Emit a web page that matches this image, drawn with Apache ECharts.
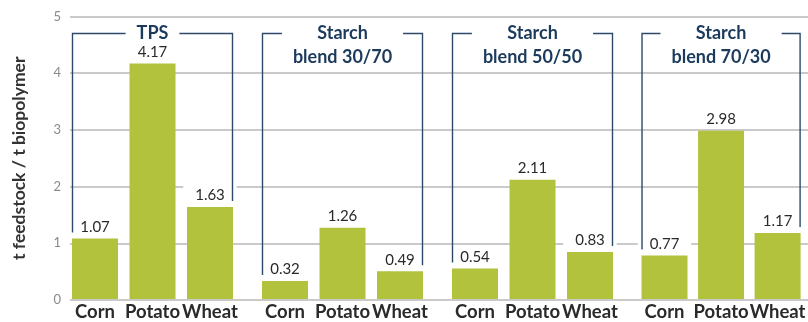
<!DOCTYPE html>
<html>
<head>
<meta charset="utf-8">
<script src="https://cdn.jsdelivr.net/npm/echarts@6/dist/echarts.min.js"></script>
<style>
  html, body { margin: 0; padding: 0; background: #fff; }
  #chart { width: 808px; height: 322px; }
</style>
</head>
<body>
<div id="chart"></div>
<script>
// Feedstock demand per tonne of biopolymer, by crop and material
const groupTitles = ['TPS', 'Starch\nblend 30/70', 'Starch\nblend 50/50', 'Starch\nblend 70/30'];
const crops = ['Corn', 'Potato', 'Wheat'];
const tps = [1.07, 4.17, 1.63];
const blend3070 = [0.32, 1.26, 0.49];
const blend5050 = [0.54, 2.11, 0.83];
const blend7030 = [0.77, 2.98, 1.17];
const groupValues = [tps, blend3070, blend5050, blend7030];
const yTicks = [0, 1, 2, 3, 4, 5];
const yTitle = 't feedstock / t biopolymer';

// Layout settings
const FONT = 'Lato, "Open Sans", sans-serif';
const BAR = '#b3c23d';
const NAVY = '#1b3a5c';
const BRACKET = '#2e4a6b';
const TOP = 16.5, BOTTOM = 22, PLOT_LEFT = 70;
const SLOT = 57.5, BAR_W = 46, GROUP_STEP = 190, FIRST_LEFT = 66.25;
const BRACKET_TOP = 4.7;

const chart = echarts.init(document.getElementById('chart'), null, { renderer: 'canvas' });

const yMin = yTicks[0], yMax = yTicks[yTicks.length - 1];

const grids = [{ left: PLOT_LEFT, right: 0, top: TOP, bottom: BOTTOM }];
const xAxes = [{ gridIndex: 0, type: 'value', show: false, min: 0, max: 1 }];
const yAxes = [{
  gridIndex: 0, type: 'value', min: yMin, max: yMax, interval: 1,
  axisLine: { show: false }, axisTick: { show: false },
  axisLabel: { color: '#8a8a8a', fontFamily: FONT, fontSize: 13, margin: 9 },
  splitLine: { lineStyle: { color: '#b9b9b9', width: 1.5 } },
  name: yTitle, nameLocation: 'middle', nameRotate: 90, nameGap: 42,
  nameTextStyle: { color: '#333', fontFamily: FONT, fontSize: 17.5, fontWeight: 'bold' }
}];
const series = [];

groupValues.forEach((vals, g) => {
  const gi = g + 1;
  grids.push({
    left: FIRST_LEFT + GROUP_STEP * g, width: SLOT * crops.length,
    top: TOP, bottom: BOTTOM
  });
  xAxes.push({
    gridIndex: gi, type: 'category', data: crops,
    axisLine: { show: false }, axisTick: { show: false },
    axisLabel: { color: '#2a2a2a', fontFamily: FONT, fontSize: 18.5, fontWeight: 'bold', margin: 4, interval: 0 }
  });
  yAxes.push({ gridIndex: gi, type: 'value', min: yMin, max: yMax, show: false });
  series.push({
    type: 'bar', xAxisIndex: gi, yAxisIndex: gi, data: vals,
    barWidth: BAR_W, itemStyle: { color: BAR },
    label: {
      show: true, position: 'top', distance: 2,
      formatter: p => p.value.toFixed(2),
      color: '#2a2a2a', fontFamily: FONT, fontSize: 15,
      backgroundColor: '#fff', padding: [2, 12]
    },
    z: 3
  });
});

chart.setOption({
  animation: false,
  grid: grids, xAxis: xAxes, yAxis: yAxes, series: series
});

// Group brackets and titles, placed from the axis scales
const elements = [];
groupValues.forEach((vals, g) => {
  const finder = { xAxisIndex: g + 1, yAxisIndex: g + 1 };
  const last = vals.length - 1;
  const [cx0, yTop] = chart.convertToPixel(finder, [0, BRACKET_TOP]);
  const [cx1] = chart.convertToPixel(finder, [last, BRACKET_TOP]);
  const [cmid] = chart.convertToPixel(finder, [last / 2, BRACKET_TOP]);
  const yL = chart.convertToPixel(finder, [0, vals[0]])[1] - 6;
  const yR = chart.convertToPixel(finder, [last, vals[last]])[1] - 6;
  const xL = cx0 - BAR_W / 2 + 0.5, xR = cx1 + BAR_W / 2 - 0.5;
  elements.push({
    type: 'polyline', z: 10, silent: true,
    shape: { points: [[xL, yL], [xL, yTop], [xR, yTop], [xR, yR]] },
    style: { fill: null, stroke: BRACKET, lineWidth: 1.4 }
  });
  elements.push({
    type: 'text', z: 11, silent: true, x: cmid, y: yTop - 12,
    style: {
      text: groupTitles[g], fill: NAVY, font: 'bold 18px ' + FONT,
      align: 'center', verticalAlign: 'top', lineHeight: 24,
      backgroundColor: '#fff', padding: [0, 11]
    }
  });
});
chart.setOption({ graphic: { elements: elements } });
</script>
</body>
</html>
